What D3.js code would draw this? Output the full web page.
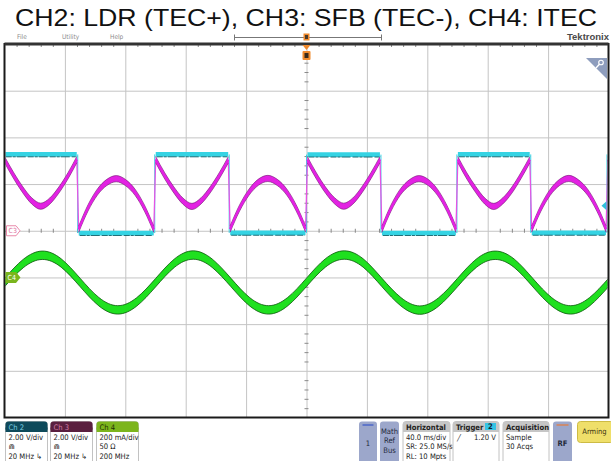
<!DOCTYPE html>
<html><head><meta charset="utf-8">
<script src="https://cdn.jsdelivr.net/npm/d3@7"></script>
<style>body{margin:0;background:#fff}svg{display:block}</style>
</head><body>
<svg id="c" width="611" height="461"></svg>
<script>
// ---------------- DATA ----------------
const title = "CH2: LDR (TEC+), CH3: SFB (TEC-), CH4: ITEC";
const menuItems = ["File", "Utility", "Help"];
const timeDomain = [-200, 200];          // ms, 40 ms/div, 10 div
const timeDivs = [-200,-160,-120,-80,-40,0,40,80,120,160,200];
const voltDivs = [-8,-6,-4,-2,0,2,4,6,8]; // CH2/CH3 2 V/div, ground at centre
const ch4Domain = [-600, 1000];           // CH4 200 mA/div, ground 1 div below centre
// edge times of CH2 square wave (ms)
const edgeTimes = [-200.5, -151.5, -100.5, -51.2, 0, 49.3, 99.6, 148.5, 199, 249];
// CH2 (LDR) level on each interval (V)
const ch2Levels = [3.27, -0.10, 3.27, -0.09, 3.26, -0.10, 3.27, -0.09, 3.27];
// CH3 (SFB) arc values on each interval, 9 samples across the interval (V)
const ch3Arc0 = [3.04, 2.36, 1.76, 1.28, 1.05, 1.27, 1.74, 2.34, 3.05];
const ch3Arc1 = [0.06, 0.98, 1.66, 2.07, 2.23, 2.06, 1.65, 0.97, 0.06];
const ch3Arc2 = [3.05, 2.35, 1.75, 1.27, 1.04, 1.28, 1.75, 2.35, 3.04];
const ch3Arc3 = [0.07, 0.97, 1.65, 2.08, 2.24, 2.07, 1.66, 0.98, 0.07];
const ch3Arc4 = [3.04, 2.34, 1.74, 1.28, 1.05, 1.27, 1.75, 2.36, 3.05];
const ch3Arc5 = [0.06, 0.98, 1.66, 2.06, 2.23, 2.07, 1.65, 0.97, 0.06];
const ch3Arc6 = [3.05, 2.35, 1.76, 1.27, 1.04, 1.28, 1.74, 2.35, 3.04];
const ch3Arc7 = [0.07, 0.97, 1.65, 2.07, 2.24, 2.06, 1.66, 0.98, 0.07];
const ch3Arc8 = [3.04, 2.36, 1.75, 1.28, 1.05, 1.27, 1.75, 2.35, 3.05];
const ch3Arcs = [ch3Arc0, ch3Arc1, ch3Arc2, ch3Arc3, ch3Arc4, ch3Arc5, ch3Arc6, ch3Arc7, ch3Arc8];
// CH4 (ITEC) samples every 12.5 ms from -200 ms (mA)
const ch4Step = 12.5;
const ch4Values = [-22, 60, 95, 62, -21, -104, -139, -105, -23, 61, 96, 61, -22, -105, -139, -104,
                   -21, 62, 96, 62, -22, -104, -140, -105, -22, 61, 95, 61, -23, -105, -139, -104, -22];
// bottom readout texts
const ch2Lines = ["2.00 V/div", "\u22d2", "20 MHz \u21b3"];
const ch3Lines = ["2.00 V/div", "\u22d2", "20 MHz \u21b3"];
const ch4Lines = ["200 mA/div", "50 \u03a9", "200 MHz"];
const horizLines = ["40.0 ms/div", "SR: 25.0 MS/s", "RL: 10 Mpts"];
const acqLines = ["Sample", "30 Acqs"];
const trigSource = "2", trigLevel = "1.20 V";

// ---------------- DRAWING ----------------
const svg = d3.select("#c");
const P = {x0: 4.5, x1: 608.5, y0: 44, y1: 417.5};
const x = d3.scaleLinear().domain(timeDomain).range([P.x0, P.x1]);
const yV = d3.scaleLinear().domain([-8, 8]).range([P.y1, P.y0]);
const yI = d3.scaleLinear().domain(ch4Domain).range([P.y1, P.y0]);
const FONT = "'Liberation Sans', Arial, sans-serif";
const NARROW = "'Liberation Sans Narrow', 'DejaVu Sans Condensed', 'Liberation Sans', sans-serif";
const SYM = "'DejaVu Sans', sans-serif";

svg.append("rect").attr("width", 611).attr("height", 461).attr("fill", "#fff");

// title
svg.append("text").attr("x", 306).attr("y", 26).attr("text-anchor", "middle")
  .attr("font-family", FONT).attr("font-size", 24).attr("textLength", 582).attr("lengthAdjust", "spacingAndGlyphs")
  .attr("fill", "#111").text(title);

// menu
const menuX = [17, 62, 110];
menuItems.forEach((m, i) => svg.append("text").attr("x", menuX[i]).attr("y", 39)
  .attr("font-family", NARROW).attr("font-size", 6.5).attr("fill", "#8a8a8a").text(m));
svg.append("text").attr("x", 609).attr("y", 40).attr("text-anchor", "end")
  .attr("font-family", FONT).attr("font-weight", "bold").attr("font-size", 9.5)
  .attr("textLength", 42).attr("lengthAdjust", "spacingAndGlyphs").attr("fill", "#4a4a4a").text("Tektronix");

// record-view timeline
const tl = svg.append("g").attr("stroke", "#777").attr("stroke-width", 1);
tl.append("line").attr("x1", 234.5).attr("x2", 381.5).attr("y1", 37.5).attr("y2", 37.5);
tl.append("line").attr("x1", 234.5).attr("x2", 234.5).attr("y1", 34.5).attr("y2", 40.5);
tl.append("line").attr("x1", 381.5).attr("x2", 381.5).attr("y1", 34.5).attr("y2", 40.5);
svg.append("rect").attr("x", x(0) - 3).attr("y", 33.5).attr("width", 6).attr("height", 7).attr("fill", "#f08a2c");
svg.append("rect").attr("x", x(0) - 1.5).attr("y", 35).attr("width", 3).attr("height", 4).attr("fill", "#4a3a2a");

// plot background
svg.append("rect").attr("x", P.x0).attr("y", P.y0).attr("width", P.x1 - P.x0).attr("height", P.y1 - P.y0).attr("fill", "#fff");

// grid via axes
const gridX = svg.append("g").attr("transform", `translate(0,${P.y1})`)
  .call(d3.axisBottom(x).tickValues(timeDivs.slice(1, -1)).tickSize(-(P.y1 - P.y0)).tickFormat(""));
const gridY = svg.append("g").attr("transform", `translate(${P.x0},0)`)
  .call(d3.axisLeft(yV).tickValues(voltDivs.slice(1, -1)).tickSize(-(P.x1 - P.x0)).tickFormat(""));
[gridX, gridY].forEach(g => { g.select(".domain").remove(); g.selectAll("line").attr("stroke", "#c4c4c4").attr("stroke-width", 1); });

// minor ticks on centre lines and top edge
const minorT = d3.range(-200, 200.01, 8).filter(t => t % 40 !== 0);
const minorV = d3.range(-8, 8.01, 0.4).filter(v => Math.abs(v % 2) > 0.01 && Math.abs(Math.abs(v % 2) - 2) > 0.01);
const mt = svg.append("g").attr("transform", `translate(0,${yV(0) - 2})`)
  .call(d3.axisBottom(x).tickValues(minorT).tickSize(4).tickFormat(""));
const mv = svg.append("g").attr("transform", `translate(${x(0) - 2},0)`)
  .call(d3.axisRight(yV).tickValues(minorV).tickSize(4).tickFormat(""));
const topT = svg.append("g").attr("transform", `translate(0,${P.y0})`)
  .call(d3.axisBottom(x).tickValues(minorT).tickSize(3).tickFormat(""));
[mt, mv, topT].forEach(g => { g.select(".domain").remove(); g.selectAll("line").attr("stroke", "#8a8a8a").attr("stroke-width", 1); });

// clip
svg.append("clipPath").attr("id", "clip").append("rect")
  .attr("x", P.x0 + 1).attr("y", P.y0 + 1).attr("width", P.x1 - P.x0 - 2).attr("height", P.y1 - P.y0 - 2);
const traces = svg.append("g").attr("clip-path", "url(#clip)");

// ---- CH2 cyan square wave ----
const ch2 = traces.append("g");
ch2Levels.forEach((lv, i) => {
  if (i > 0) ch2.append("line").attr("x1", x(edgeTimes[i])).attr("x2", x(edgeTimes[i]))
    .attr("y1", yV(ch2Levels[i - 1])).attr("y2", yV(lv)).attr("stroke", "#35d3e3").attr("stroke-width", 1);
});
ch2Levels.forEach((lv, i) => {
  ch2.append("line").attr("x1", x(edgeTimes[i]) + 1).attr("x2", x(edgeTimes[i + 1]) - 1)
    .attr("y1", yV(lv)).attr("y2", yV(lv)).attr("stroke", "#35d3e3").attr("stroke-width", 4.6);
  ch2.append("line").attr("x1", x(edgeTimes[i]) + 2).attr("x2", x(edgeTimes[i + 1]) - 2)
    .attr("y1", yV(lv) + 2.4).attr("y2", yV(lv) + 2.4).attr("stroke", "#0d5a64")
    .attr("stroke-width", 1).attr("stroke-dasharray", "6,1,3,1,9,2").attr("opacity", 0.85);
});

// ---- CH3 magenta ----
const inset = 0.6;
const arcPts = ch3Arcs.map((vals, i) => {
  const a = edgeTimes[i] + inset, b = edgeTimes[i + 1] - inset;
  return vals.map((v, j) => ({t: a + (b - a) * j / (vals.length - 1), v}));
});
const MAG = "#e322e3", MAGD = "#6e166e";
const mh = 3.1;
const ch3 = traces.append("g");
arcPts.forEach((pts, i) => {
  if (i > 0) {
    const p = arcPts[i - 1][arcPts[i - 1].length - 1], q = pts[0];
    ch3.append("line").attr("x1", x(p.t)).attr("y1", yV(p.v)).attr("x2", x(q.t)).attr("y2", yV(q.v))
      .attr("stroke", "#e455e4").attr("stroke-width", 1.3);
  }
});
arcPts.forEach(pts => {
  ch3.append("path").datum(pts).attr("fill", MAG)
    .attr("d", d3.area().x(d => x(d.t)).y0(d => yV(d.v) + mh).y1(d => yV(d.v) - mh).curve(d3.curveMonotoneX));
  [-mh, mh].forEach(o => ch3.append("path").datum(pts).attr("fill", "none").attr("stroke", MAGD)
    .attr("stroke-width", 0.8).attr("opacity", 0.75)
    .attr("d", d3.line().x(d => x(d.t)).y(d => yV(d.v) + o).curve(d3.curveMonotoneX)));
  ch3.append("path").datum(pts).attr("fill", "none").attr("stroke", MAG).attr("stroke-width", 2.2)
    .attr("d", d3.line().x(d => x(d.t)).y(d => yV(d.v)).curve(d3.curveMonotoneX));
});

// ---- CH4 green ----
const gPts = ch4Values.map((v, k) => ({t: timeDomain[0] + k * ch4Step, v}));
const GRN = "#1fe01f", GRND = "#0b560b", gh = 4.2;
const ch4 = traces.append("g");
ch4.append("path").datum(gPts).attr("fill", GRN)
  .attr("d", d3.area().x(d => x(d.t)).y0(d => yI(d.v) + gh).y1(d => yI(d.v) - gh).curve(d3.curveNatural));
[-gh, gh].forEach(o => ch4.append("path").datum(gPts).attr("fill", "none").attr("stroke", GRND)
  .attr("stroke-width", 1).attr("opacity", 0.8)
  .attr("d", d3.line().x(d => x(d.t)).y(d => yI(d.v) + o).curve(d3.curveNatural)));
ch4.append("path").datum(gPts).attr("fill", "none").attr("stroke", GRN).attr("stroke-width", 2.8)
  .attr("d", d3.line().x(d => x(d.t)).y(d => yI(d.v)).curve(d3.curveNatural));

// frame
svg.append("rect").attr("x", P.x0).attr("y", P.y0).attr("width", P.x1 - P.x0).attr("height", P.y1 - P.y0)
  .attr("fill", "none").attr("stroke", "#1a1a1a").attr("stroke-width", 2);
svg.append("line").attr("x1", P.x0).attr("x2", P.x1).attr("y1", P.y0).attr("y2", P.y0)
  .attr("stroke", "#333").attr("stroke-width", 3);

// trigger position marker
svg.append("path").attr("d", `M${x(0) - 4},${P.y0 + 1}L${x(0) + 4},${P.y0 + 1}L${x(0)},${P.y0 + 6}Z`).attr("fill", "#f08a2c");
svg.append("rect").attr("x", x(0) - 4).attr("y", 51).attr("width", 8).attr("height", 9).attr("rx", 1).attr("fill", "#f08a2c");
svg.append("rect").attr("x", x(0) - 2).attr("y", 53).attr("width", 4).attr("height", 5).attr("fill", "#3a2a1a");

// channel ground markers
const y3 = yV(0), y4 = yI(0);
svg.append("path").attr("d", `M6.5,${y3 - 5}L16,${y3 - 5}L20,${y3}L16,${y3 + 5}L6.5,${y3 + 5}Z`)
  .attr("fill", "#fff").attr("stroke", "#e98aaa").attr("stroke-width", 1);
svg.append("text").attr("x", 8.5).attr("y", y3 + 2.5).attr("font-family", NARROW).attr("font-size", 7)
  .attr("fill", "#e070a0").text("C3");
svg.append("path").attr("d", `M5.5,${y4 - 5.5}L16,${y4 - 5.5}L20.5,${y4}L16,${y4 + 5.5}L5.5,${y4 + 5.5}Z`)
  .attr("fill", "#7ab51d");
svg.append("text").attr("x", 7.5).attr("y", y4 + 2.5).attr("font-family", NARROW).attr("font-size", 7)
  .attr("fill", "#fff").text("C4");
// trigger level arrow (CH2, 1.20 V)
const yt = yV(1.2) + 3;
svg.append("path").attr("d", `M601.5,${yt}L606.5,${yt - 4.5}L606.5,${yt + 4.5}Z`).attr("fill", "#2fc0dc");

// zoom triangle
svg.append("path").attr("d", "M586,58L607,58L607,79Z").attr("fill", "#8e9dbd");
svg.append("circle").attr("cx", 601).attr("cy", 62.5).attr("r", 2.3).attr("fill", "none").attr("stroke", "#fff").attr("stroke-width", 1.1);
svg.append("line").attr("x1", 599.4).attr("y1", 64.2).attr("x2", 596).attr("y2", 68).attr("stroke", "#fff").attr("stroke-width", 1.3);

// ---- bottom readouts ----
const TOP = 421.5, FS = 7.6;
function chPanel(x0, w, hdrFill, hdrText, hdrColor, lines) {
  const g = svg.append("g");
  g.append("rect").attr("x", x0).attr("y", TOP).attr("width", w).attr("height", 45).attr("rx", 3)
    .attr("fill", "#fff").attr("stroke", "#c2c2c2");
  g.append("rect").attr("x", x0).attr("y", TOP).attr("width", w).attr("height", 10).attr("rx", 3).attr("fill", hdrFill);
  g.append("rect").attr("x", x0).attr("y", TOP + 6).attr("width", w).attr("height", 4.5).attr("fill", hdrFill);
  g.append("text").attr("x", x0 + 3).attr("y", TOP + 8).attr("font-family", NARROW).attr("font-size", FS)
    .attr("fill", hdrColor).text(hdrText);
  lines.forEach((l, i) => g.append("text").attr("x", x0 + 3).attr("y", TOP + 18 + i * 9.6)
    .attr("font-family", l.length === 1 ? SYM : NARROW).attr("font-size", FS).attr("fill", "#222").text(l));
  return g;
}
chPanel(5.5, 42, "#0e4a5b", "Ch 2", "#7fd2e4", ch2Lines);
chPanel(50.5, 42, "#5a1f3f", "Ch 3", "#d27ca4", ch3Lines);
chPanel(96.5, 42, "#7cb51c", "Ch 4", "#1c2c05", ch4Lines);

function button(x0, w, lineColor, labels, bold) {
  const g = svg.append("g");
  g.append("rect").attr("x", x0).attr("y", TOP).attr("width", w).attr("height", 45).attr("rx", 3).attr("fill", "#9ca7cb");
  if (lineColor) g.append("line").attr("x1", x0 + 3.5).attr("x2", x0 + w - 3.5).attr("y1", TOP + 3.5).attr("y2", TOP + 3.5)
    .attr("stroke", lineColor).attr("stroke-width", 1.2);
  const ys = labels.length === 1 ? [TOP + 24] : [TOP + 12, TOP + 21.5, TOP + 31];
  labels.forEach((l, i) => g.append("text").attr("x", x0 + w / 2).attr("y", ys[i]).attr("text-anchor", "middle")
    .attr("font-family", NARROW).attr("font-size", FS).attr("font-weight", bold ? "bold" : "normal")
    .attr("fill", "#23283a").text(l));
}
button(359, 18, "#3a57c8", ["1"], false);
button(380, 19, null, ["Math", "Ref", "Bus"], false);
button(553, 19, "#e87a3a", ["RF"], true);

chPanel(403, 47, "#c6c6c6", "Horizontal", "#222", horizLines).select("text").attr("font-weight", "bold");
const tp = chPanel(453, 46, "#c6c6c6", "Trigger", "#222", []);
tp.select("text").attr("font-weight", "bold");
tp.append("rect").attr("x", 485).attr("y", TOP + 1.5).attr("width", 11).attr("height", 7).attr("fill", "#35c3e3");
tp.append("text").attr("x", 490.5).attr("y", TOP + 7.8).attr("text-anchor", "middle").attr("font-family", NARROW)
  .attr("font-size", FS).attr("font-weight", "bold").attr("fill", "#123").text(trigSource);
tp.append("text").attr("x", 457).attr("y", TOP + 18).attr("font-family", SYM).attr("font-size", 6.5)
  .attr("fill", "#222").text("\u2571");
tp.append("text").attr("x", 496).attr("y", TOP + 18).attr("text-anchor", "end").attr("font-family", NARROW)
  .attr("font-size", FS).attr("fill", "#222").text(trigLevel);
chPanel(503, 46, "#c6c6c6", "Acquisition", "#222", acqLines).select("text").attr("font-weight", "bold");

svg.append("rect").attr("x", 577.5).attr("y", TOP).attr("width", 36).attr("height", 21).attr("rx", 3)
  .attr("fill", "#efdf6a").attr("stroke", "#cdbb44");
svg.append("text").attr("x", 594.5).attr("y", TOP + 12.5).attr("text-anchor", "middle").attr("font-family", NARROW)
  .attr("font-size", 7.5).attr("fill", "#3a3310").text("Arming");
</script>
</body></html>
